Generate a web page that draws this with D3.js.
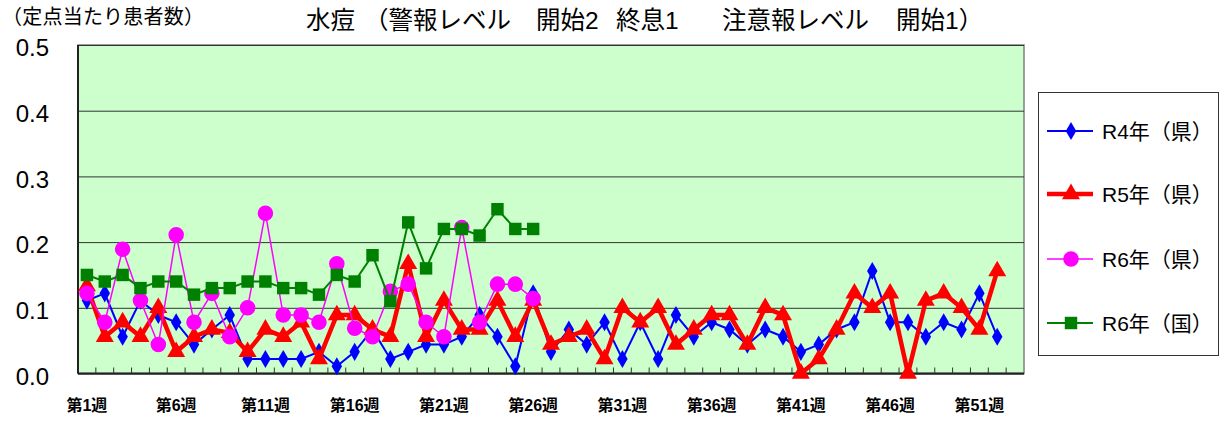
<!DOCTYPE html>
<html>
<head>
<meta charset="utf-8">
<script src="https://cdn.jsdelivr.net/npm/d3@7"></script>
<style>
  body { margin: 0; background: #fff; }
  text { font-family: "Liberation Sans", "Noto Sans CJK JP", sans-serif; fill: #000; }
</style>
</head>
<body>
<div id="chart"></div>
<script>
// 週（53枠、ラベルは5週ごと）
const weeks = d3.range(1, 54);
const labelWeeks = [1, 6, 11, 16, 21, 26, 31, 36, 41, 46, 51];
const yTicks = [0, 0.1, 0.2, 0.3, 0.4, 0.5];

const r4Pref = [0.111, 0.122, 0.056, 0.111, 0.089, 0.078, 0.044, 0.067, 0.089, 0.022,
  0.022, 0.022, 0.022, 0.033, 0.011, 0.033, 0.067, 0.022, 0.033, 0.044,
  0.044, 0.056, 0.089, 0.056, 0.011, 0.122, 0.033, 0.067, 0.044, 0.078,
  0.022, 0.078, 0.022, 0.089, 0.056, 0.078, 0.067, 0.044, 0.067, 0.056,
  0.033, 0.044, 0.067, 0.078, 0.156, 0.078, 0.078, 0.056, 0.078, 0.067,
  0.122, 0.056];
const r5Pref = [0.133, 0.056, 0.078, 0.056, 0.1, 0.033, 0.056, 0.067, 0.062, 0.033,
  0.067, 0.056, 0.078, 0.022, 0.089, 0.089, 0.067, 0.056, 0.167, 0.056,
  0.111, 0.067, 0.067, 0.111, 0.056, 0.111, 0.044, 0.056, 0.067, 0.022,
  0.1, 0.078, 0.1, 0.044, 0.067, 0.089, 0.089, 0.044, 0.1, 0.089,
  0, 0.022, 0.067, 0.122, 0.1, 0.122, 0, 0.111, 0.122, 0.1,
  0.067, 0.156];
const r6Pref = [0.122, 0.078, 0.189, 0.111, 0.044, 0.211, 0.078, 0.122, 0.056, 0.1,
  0.244, 0.089, 0.089, 0.078, 0.167, 0.069, 0.056, 0.125, 0.136, 0.078,
  0.056, 0.222, 0.078, 0.136, 0.136, 0.114];
const r6Nat = [0.15, 0.14, 0.15, 0.13, 0.14, 0.14, 0.12, 0.13, 0.13, 0.14,
  0.14, 0.13, 0.13, 0.12, 0.15, 0.14, 0.18, 0.11, 0.23, 0.16,
  0.22, 0.22, 0.21, 0.25, 0.22, 0.22];

const seriesNames = ["R4年（県）", "R5年（県）", "R6年（県）", "R6年（国）"];
const seriesData = [r4Pref, r5Pref, r6Pref, r6Nat];
const seriesStyle = [
  { color: "#0000ff", width: 2, symbol: d3.symbolDiamond, size: 95 },
  { color: "#ff0000", width: 4.5, symbol: d3.symbolTriangle, size: 140 },
  { color: "#ff00ff", width: 1.5, symbol: d3.symbolCircle, size: 190 },
  { color: "#008000", width: 2, symbol: d3.symbolSquare, size: 155 }
];

// タイトルの区切り（元図の字間に合わせて分ける）
const titleParts = ["水痘", "（警報レベル", "開始2", "終息1", "注意報レベル", "開始1）"];
const titleX = [306, 364, 536, 616, 722, 896];

const width = 1223, height = 421;
const margin = { top: 45, right: 199, bottom: 47.5, left: 78 };
const innerW = width - margin.left - margin.right;
const innerH = height - margin.top - margin.bottom;

const svg = d3.select("#chart").append("svg")
  .attr("width", width)
  .attr("height", height);

const x = d3.scaleBand().domain(weeks).range([margin.left, margin.left + innerW]);
const y = d3.scaleLinear().domain([0, 0.5]).range([margin.top + innerH, margin.top]);

// 背景
svg.append("rect")
  .attr("x", margin.left).attr("y", margin.top)
  .attr("width", innerW).attr("height", innerH)
  .attr("fill", "#ccffcc")
  .attr("stroke", "#808080").attr("stroke-width", 1.5);

// 目盛線とY軸ラベル
const yAxis = svg.append("g")
  .attr("transform", `translate(${margin.left},0)`)
  .call(d3.axisLeft(y).tickValues(yTicks).tickSize(-innerW).tickPadding(29).tickFormat(d3.format(".1f")));
yAxis.select(".domain").remove();
yAxis.selectAll(".tick line").attr("stroke", "#333").attr("stroke-width", 1);
yAxis.selectAll(".tick text")
  .attr("dy", "0.45em")
  .style("font-size", "24px");

// 軸線
svg.append("line")
  .attr("x1", margin.left).attr("x2", margin.left)
  .attr("y1", margin.top).attr("y2", margin.top + innerH)
  .attr("stroke", "#222").attr("stroke-width", 2);
svg.append("line")
  .attr("x1", margin.left).attr("x2", margin.left + innerW)
  .attr("y1", margin.top + innerH).attr("y2", margin.top + innerH)
  .attr("stroke", "#222").attr("stroke-width", 2);

// X軸の内向き目盛（枠の境界）
svg.append("g").selectAll("line")
  .data(weeks.slice(1))
  .join("line")
  .attr("x1", d => x(d)).attr("x2", d => x(d))
  .attr("y1", margin.top + innerH).attr("y2", margin.top + innerH - 6)
  .attr("stroke", "#333").attr("stroke-width", 1);

const xAxis = svg.append("g")
  .attr("transform", `translate(0,${margin.top + innerH})`)
  .call(d3.axisBottom(x).tickValues(labelWeeks).tickSize(0).tickPadding(26).tickFormat(d => `第${d}週`));
xAxis.select(".domain").remove();
xAxis.selectAll(".tick text").style("font-size", "16px").style("font-weight", "bold");

// 系列
const line = d3.line()
  .x((d, i) => x(weeks[i]) + x.bandwidth() / 2)
  .y(d => y(d));

seriesData.forEach((data, k) => {
  const st = seriesStyle[k];
  const g = svg.append("g").attr("class", `series-${k}`);
  g.append("path")
    .datum(data)
    .attr("d", line)
    .attr("fill", "none")
    .attr("stroke", st.color)
    .attr("stroke-width", st.width)
    .attr("stroke-linejoin", "miter");
  g.selectAll("path.mark")
    .data(data)
    .join("path")
    .attr("class", "mark")
    .attr("d", d3.symbol(st.symbol, st.size))
    .attr("transform", (d, i) => `translate(${x(weeks[i]) + x.bandwidth() / 2},${y(d)})`)
    .attr("fill", st.color);
});

// タイトル
svg.append("text")
  .attr("x", 2).attr("y", 24)
  .style("font-size", "20px")
  .attr("textLength", 202)
  .text("（定点当たり患者数）");
svg.append("text")
  .attr("y", 29)
  .style("font-size", "24.5px")
  .selectAll("tspan")
  .data(titleParts)
  .join("tspan")
  .attr("x", (d, i) => titleX[i])
  .text(d => d);

// 凡例
const legend = svg.append("g");
legend.append("rect")
  .attr("x", 1038.5).attr("y", 92.5)
  .attr("width", 180).attr("height", 263)
  .attr("fill", "#fff").attr("stroke", "#333").attr("stroke-width", 1);
const rowY = [131, 194, 259, 323];
seriesNames.forEach((name, k) => {
  const st = seriesStyle[k];
  const row = legend.append("g").attr("transform", `translate(0,${rowY[k]})`);
  row.append("line")
    .attr("x1", 1047).attr("x2", 1093)
    .attr("stroke", st.color).attr("stroke-width", st.width);
  row.append("path")
    .attr("d", d3.symbol(st.symbol, st.size))
    .attr("transform", "translate(1071,0)")
    .attr("fill", st.color);
  row.append("text")
    .attr("x", 1102).attr("dy", "0.36em")
    .style("font-size", "21px")
    .text(name);
});
</script>
</body>
</html>
